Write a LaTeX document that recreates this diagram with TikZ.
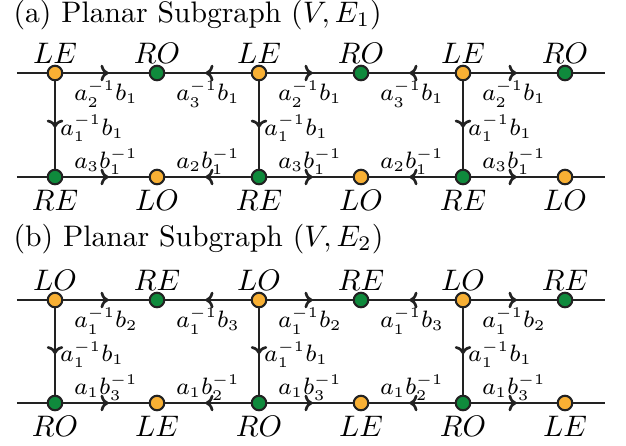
\documentclass[tikz,border=0pt]{standalone}
\usetikzlibrary{decorations.markings,arrows.meta}
\definecolor{orn}{HTML}{F8B034}
\definecolor{grn}{HTML}{0F8A3C}
\definecolor{ink}{HTML}{222222}
\begin{document}
\begin{tikzpicture}[x=0.337pt,y=-0.337pt,
  vtx/.style={circle,draw=ink,line width=0.7pt,inner sep=0pt,minimum size=4.9pt},
  on/.style={vtx,fill=orn},
  gn/.style={vtx,fill=grn},
  nl/.style={font=\fontsize{9.6}{10}\selectfont,inner sep=0pt,label distance=0.3pt},
  nb/.style={font=\fontsize{9.6}{10}\selectfont,inner sep=0pt,label distance=1.4pt},
  ln/.style={draw=ink,line width=0.9pt},
  mid/.style={postaction={decorate},decoration={markings,mark=at position 0.53 with {\arrow[ink]{To[length=2.7pt,width=5.6pt]}}}},
  el/.style={font=\fontsize{7.8}{8}\selectfont,inner sep=0pt},
  bl/.style={el,pos=0.5,yshift=-7pt},
  al/.style={el,pos=0.5,yshift=5.2pt},
  rl/.style={el,pos=0.5,anchor=west,xshift=1.4pt,yshift=-1pt},
  tt/.style={anchor=west,inner sep=0pt,font=\fontsize{10}{12}\selectfont}]
\useasboundingbox (0,0) rectangle (626,445);
% titles
\node[tt] (ta) at (13,15) {(a) Planar Subgraph $(V,E_1)$};
\node[tt] (tb) at (13,239) {(b) Planar Subgraph $(V,E_2)$};
% ---------- panel (a)
\foreach \i/\x in {1/55,3/259,5/463}{
  \node[on,label={[nl]above:$LE$}] (at\i) at (\x,73) {};
  \node[gn,label={[nb]below:$RE$}] (ab\i) at (\x,177) {};
}
\foreach \i/\x in {2/157,4/361,6/565}{
  \node[gn,label={[nl]above:$RO$}] (at\i) at (\x,73) {};
  \node[on,label={[nb]below:$LO$}] (ab\i) at (\x,177) {};
}
\coordinate (atL) at (17,73); \coordinate (atR) at (605,73);
\coordinate (abL) at (17,177); \coordinate (abR) at (605,177);
\draw[ln] (atL) -- (at1); \draw[ln] (at6) -- (atR);
\draw[ln] (abL) -- (ab1); \draw[ln] (ab6) -- (abR);
\foreach \i/\j in {1/2,3/4,5/6}{
  \draw[ln,mid] (at\i) -- node[bl]{$a_2^{-1}b_1$} (at\j);
  \draw[ln,mid] (ab\i) -- node[al]{$a_3b_1^{-1}$} (ab\j);
  \draw[ln,mid] (at\i) -- node[rl]{$a_1^{-1}b_1$} (ab\i);
}
\foreach \i/\j in {3/2,5/4}{
  \draw[ln,mid] (at\i) -- node[bl]{$a_3^{-1}b_1$} (at\j);
  \draw[ln,mid] (ab\i) -- node[al]{$a_2b_1^{-1}$} (ab\j);
}
% ---------- panel (b)
\foreach \i/\x in {1/55,3/259,5/463}{
  \node[on,label={[nl]above:$LO$}] (bt\i) at (\x,300) {};
  \node[gn,label={[nb]below:$RO$}] (bb\i) at (\x,403) {};
}
\foreach \i/\x in {2/157,4/361,6/565}{
  \node[gn,label={[nl]above:$RE$}] (bt\i) at (\x,300) {};
  \node[on,label={[nb]below:$LE$}] (bb\i) at (\x,403) {};
}
\coordinate (btL) at (17,300); \coordinate (btR) at (605,300);
\coordinate (bbL) at (17,403); \coordinate (bbR) at (605,403);
\draw[ln] (btL) -- (bt1); \draw[ln] (bt6) -- (btR);
\draw[ln] (bbL) -- (bb1); \draw[ln] (bb6) -- (bbR);
\foreach \i/\j in {1/2,3/4,5/6}{
  \draw[ln,mid] (bt\i) -- node[bl]{$a_1^{-1}b_2$} (bt\j);
  \draw[ln,mid] (bb\i) -- node[al]{$a_1b_3^{-1}$} (bb\j);
  \draw[ln,mid] (bt\i) -- node[rl]{$a_1^{-1}b_1$} (bb\i);
}
\foreach \i/\j in {3/2,5/4}{
  \draw[ln,mid] (bt\i) -- node[bl]{$a_1^{-1}b_3$} (bt\j);
  \draw[ln,mid] (bb\i) -- node[al]{$a_1b_2^{-1}$} (bb\j);
}
\end{tikzpicture}
\end{document}
